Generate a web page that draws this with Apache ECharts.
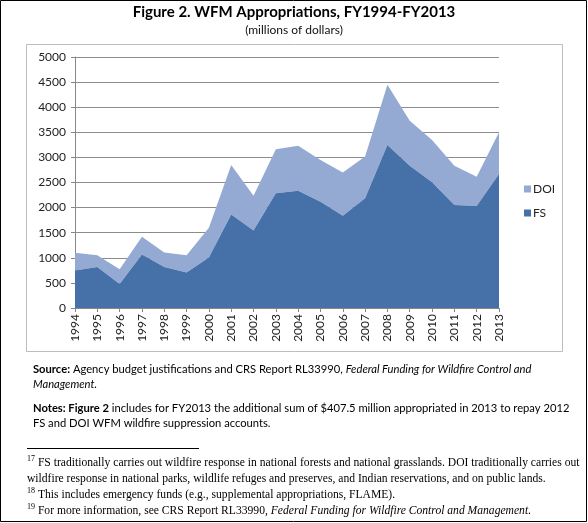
<!DOCTYPE html>
<html><head><meta charset="utf-8">
<script src="https://cdn.jsdelivr.net/npm/echarts@6/dist/echarts.min.js"></script>
<style>html,body{margin:0;padding:0;background:#fff}#c{width:588px;height:523px}</style>
</head><body><div id="c"></div>
<script>
const years = ['1994','1995','1996','1997','1998','1999','2000','2001','2002','2003','2004','2005','2006','2007','2008','2009','2010','2011','2012','2013'];
const fsValues  = [746, 819, 479, 1065, 819, 706, 1005, 1864, 1545, 2284, 2337, 2117, 1838, 2184, 3249, 2836, 2503, 2051, 2031, 2670];
const doiValues = [354, 233, 293, 353, 286, 346, 593, 986, 692, 879, 895, 833, 859, 832, 1199, 892, 846, 785, 586, 832];
const yTicks = [0, 500, 1000, 1500, 2000, 2500, 3000, 3500, 4000, 4500, 5000];

const sans = 'Lato, "Open Sans", sans-serif';
const serif = '"Liberation Serif", "DejaVu Serif", serif';
const chart = echarts.init(document.getElementById('c'), null, {renderer:'canvas'});
function rs(extra){ return Object.assign({fontFamily: sans, fontSize: 11.2, color:'#111'}, extra||{}); }
function sr(extra){ return Object.assign({fontFamily: serif, fontSize: 11.6, color:'#111'}, extra||{}); }

chart.setOption({
  animation:false,
  color:['#4671a8','#95aad3'],
  grid:{left:75, right:89, top:57, bottom:215, containLabel:false},
  legend:{
    data:['DOI','FS'], orient:'vertical', left:519, top:178,
    itemWidth:7, itemHeight:7, itemGap:12, icon:'rect',
    textStyle:{fontFamily:sans, fontSize:12, color:'#222', padding:[0,0,0,-3]}
  },
  xAxis:{
    type:'category', data:years, boundaryGap:false,
    axisLine:{lineStyle:{color:'#888'}},
    axisTick:{show:true, interval:0, length:4, lineStyle:{color:'#888'}},
    axisLabel:{rotate:90, interval:0, fontFamily:sans, fontSize:12, color:'#222', margin:6}
  },
  yAxis:{
    type:'value', min:yTicks[0], max:yTicks[yTicks.length-1], interval:500,
    axisLine:{show:true, lineStyle:{color:'#888'}},
    axisTick:{show:true, length:4, lineStyle:{color:'#888'}},
    splitLine:{lineStyle:{color:'#8c8c8c', width:1}},
    axisLabel:{fontFamily:sans, fontSize:12, color:'#222', margin:9, formatter:function(v){return String(v);}}
  },
  series:[
    {name:'FS', type:'line', stack:'t', data:fsValues, symbol:'none', lineStyle:{width:0}, areaStyle:{color:'#4671a8', opacity:1}, z:3},
    {name:'DOI', type:'line', stack:'t', data:doiValues, symbol:'none', lineStyle:{width:0}, areaStyle:{color:'#95aad3', opacity:1}, z:2}
  ],
  graphic:[
    {type:'rect', shape:{x:0.5, y:0.5, width:586, height:521}, style:{fill:'none', stroke:'#000', lineWidth:1}, z:-1},
    {type:'rect', shape:{x:26.5, y:44.5, width:536, height:307}, style:{fill:'none', stroke:'#bcbcbc', lineWidth:1}, z:-1},
    {type:'text', x:294, y:5, style:{text:'Figure 2. WFM Appropriations, FY1994-FY2013', fontFamily:sans, fontWeight:'bold', fontSize:15, fill:'#000', textAlign:'center'}},
    {type:'text', x:294, y:24, style:{text:'(millions of dollars)', fontFamily:sans, fontSize:12, fill:'#111', textAlign:'center'}},
    {type:'text', x:33, y:362, style:{
      text:'{b|Source:}{n| Agency budget justifications and CRS Report RL33990, }{i|Federal Funding for Wildfire Control and}\n{i|Management.}',
      rich:{b:rs({fontWeight:'bold', lineHeight:15}), n:rs({lineHeight:15}), i:rs({fontStyle:'italic', lineHeight:15})}
    }},
    {type:'text', x:33, y:401, style:{
      text:'{b|Notes: Figure 2}{n| includes for FY2013 the additional sum of $407.5 million appropriated in 2013 to repay 2012}\n{n|FS and DOI WFM wildfire suppression accounts.}',
      rich:{b:rs({fontWeight:'bold', lineHeight:15}), n:rs({lineHeight:15})}
    }},
    {type:'line', shape:{x1:27, y1:448.5, x2:199, y2:448.5}, style:{stroke:'#000', lineWidth:1}},
    {type:'text', x:27, y:455, style:{
      text:'{s|17}{n| FS traditionally carries out wildfire response in national forests and national grasslands. DOI traditionally carries out}\n{n|wildfire response in national parks, wildlife refuges and preserves, and Indian reservations, and on public lands.}',
      rich:{s:sr({fontSize:8, verticalAlign:'top', lineHeight:16}), n:sr({lineHeight:16})}
    }},
    {type:'text', x:27, y:487, style:{
      text:'{s|18}{n| This includes emergency funds (e.g., supplemental appropriations, FLAME).}',
      rich:{s:sr({fontSize:8, verticalAlign:'top', lineHeight:16}), n:sr({lineHeight:16})}
    }},
    {type:'text', x:27, y:503, style:{
      text:'{s|19}{n| For more information, see CRS Report RL33990, }{i|Federal Funding for Wildfire Control and Management}{n|.}',
      rich:{s:sr({fontSize:8, verticalAlign:'top', lineHeight:16}), n:sr({lineHeight:16}), i:sr({fontStyle:'italic', lineHeight:16})}
    }}
  ]
});
</script></body></html>
